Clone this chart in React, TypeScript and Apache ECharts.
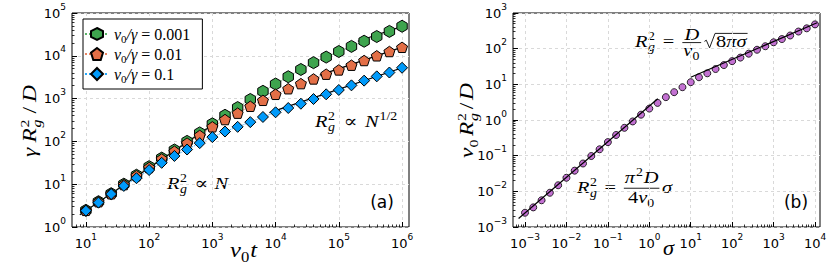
import React, { useEffect, useRef } from 'react';
import * as echarts from 'echarts';

// ---------- data: panel (a) ----------
const TIME = [10, 15.8, 25.1, 39.8, 63.1, 100, 158, 251, 398, 631, 1000, 1585, 2512, 3981, 6310, 1e4, 1.585e4, 2.512e4, 3.981e4, 6.31e4, 1e5, 1.585e5, 2.512e5, 3.981e5, 6.31e5, 1e6];
const RG_0001 = [2.45, 3.9, 6.0, 10, 16.2, 25.7, 40.7, 63, 100, 158, 257, 407, 617, 955, 1480, 2190, 3240, 4790, 6920, 9330, 12600, 16600, 21900, 28200, 37200, 49000];
const RG_001 = [2.45, 3.9, 6.0, 9.8, 15.8, 24.5, 38.9, 58.9, 91.2, 138, 219, 324, 457, 661, 912, 1260, 1700, 2240, 2880, 3720, 4680, 6030, 7760, 10000, 12600, 15800];
const RG_01 = [2.4, 3.72, 5.89, 9.12, 13.8, 21.4, 31.6, 45.7, 64.6, 91.2, 126, 170, 219, 282, 372, 479, 603, 759, 977, 1260, 1590, 2040, 2630, 3310, 4070, 5250];
const RATIOS = ['0.001', '0.01', '0.1'];
const FIT_LINEAR_A = [[8, 1.92], [1120, 269]];
const FIT_SQRT_01 = [[8000, 469], [1.12e6, 5556]];
const FIT_SQRT_001 = [[5e4, 3544], [1.12e6, 16774]];
const FIT_SQRT_0001 = [[2e5, 21913], [1.12e6, 51857]];

// ---------- data: panel (b) ----------
const SIGMA = [0.001, 0.00158, 0.00251, 0.00398, 0.00631, 0.01, 0.0158, 0.0251, 0.0398, 0.0631, 0.1, 0.158, 0.251, 0.398, 0.631, 1, 1.58, 2.51, 3.98, 6.31, 10, 15.8, 25.1, 39.8, 63.1, 100, 158, 251, 398, 631, 1000, 1585, 2512, 3981, 6310, 10000];
const RG_SIGMA = [0.00251, 0.00355, 0.00562, 0.00912, 0.0148, 0.024, 0.038, 0.0603, 0.0977, 0.151, 0.24, 0.38, 0.603, 0.912, 1.41, 2.09, 3.02, 4.37, 6.03, 8.32, 11.5, 15.8, 20.4, 26.9, 34.7, 44.7, 56.2, 72.4, 93.3, 117, 151, 186, 234, 302, 372, 479];
const FIT_SMALL_B = [[7e-4, 0.00173], [1.6, 3.95]];
const FIT_LARGE_B = [[10, 15.85], [11200, 530.5]];

// tick exponents
const X_TICKS_A = [1, 2, 3, 4, 5, 6];
const Y_TICKS_A = [0, 1, 2, 3, 4, 5];
const X_TICKS_B = [-3, -2, -1, 0, 1, 2, 3, 4];
const Y_TICKS_B = [-3, -2, -1, 0, 1, 2, 3];

const C_GREEN = '#3EA44E';
const C_ORANGE = '#E36F47';
const C_BLUE = '#009AFA';
const C_PURPLE = '#C371D2';

const MATH = '"Liberation Serif", "DejaVu Serif", serif';
const SANS = '"DejaVu Sans", sans-serif';

const HEX = 'path://M0,-10L8.66,-5L8.66,5L0,10L-8.66,5L-8.66,-5Z';
const PENT = 'path://M0,-10L9.51,-3.09L5.88,8.09L-5.88,8.09L-9.51,-3.09Z';

// ---------- math text layout ----------
let ctx2d: CanvasRenderingContext2D | null = null;
function tw(s: string, size: number, it: boolean): number {
  if (!ctx2d) ctx2d = document.createElement('canvas').getContext('2d');
  if (!ctx2d) return s.length * size * 0.5;
  ctx2d.font = `${it ? 'italic ' : ''}${size}px ${MATH}`;
  return ctx2d.measureText(s).width;
}

interface Tok {
  t?: string; it?: boolean; sup?: string; sub?: string; supIt?: boolean; subIt?: boolean;
  sp?: number; frac?: [Tok[], Tok[]]; fn?: number; fd?: number; fb?: number; sqrt?: Tok[];
}
type Prim =
  | { k: 't'; x: number; y: number; s: string; size: number; it: boolean }
  | { k: 's'; x: number; yc: number; sup: string; sub: string; supIt: boolean; subIt: boolean; size: number; lh: number }
  | { k: 'l'; x1: number; y1: number; x2: number; y2: number }
  | { k: 'p'; pts: number[][] };

const SUP_DY = -0.42;
const SUB_DY = 0.26;
const SCR = 0.68;

function lay(toks: Tok[], size: number, x0: number, y: number, out: Prim[], gap = 0): number {
  let x = x0;
  toks.forEach((k, idx) => {
    const last = idx === toks.length - 1;
    if (k.sp !== undefined) {
      x += k.sp * size;
    } else if (k.frac) {
      const wn = lay(k.frac[0], size, 0, 0, []);
      const wd = lay(k.frac[1], size, 0, 0, []);
      const w = Math.max(wn, wd) + 0.2 * size;
      lay(k.frac[0], size, x + (w - wn) / 2, y + (k.fn ?? -0.45) * size, out);
      lay(k.frac[1], size, x + (w - wd) / 2, y + (k.fd ?? 0.5) * size, out);
      const by = y + (k.fb ?? -0.26) * size;
      out.push({ k: 'l', x1: x + 0.05 * size, y1: by, x2: x + w - 0.05 * size, y2: by });
      x += w + 0.05 * size;
    } else if (k.sqrt) {
      const ty = y - 0.8 * size;
      const wr = 0.55 * size;
      const wi = lay(k.sqrt, size, x + wr + 0.05 * size, y, out);
      out.push({ k: 'p', pts: [[x + 0.03 * size, y - 0.33 * size], [x + 0.12 * size, y - 0.4 * size], [x + 0.28 * size, y + 0.05 * size], [x + wr, ty], [x + wr + wi + 0.1 * size, ty]] });
      x += wr + wi + 0.12 * size;
    } else {
      if (k.t) { out.push({ k: 't', x, y, s: k.t, size, it: !!k.it }); x += tw(k.t, size, !!k.it); }
      const ss = SCR * size;
      if (k.sup && k.sub) {
        const ys = y + SUP_DY * size - 0.34 * ss;
        const yb = y + SUB_DY * size - 0.34 * ss;
        out.push({ k: 's', x: x + 0.03 * size, yc: (ys + yb) / 2, sup: k.sup, sub: k.sub, supIt: !!k.supIt, subIt: !!k.subIt, size: ss, lh: yb - ys });
        x += Math.max(tw(k.sup, ss, !!k.supIt), tw(k.sub, ss, !!k.subIt)) + 0.07 * size;
      } else if (k.sup) {
        out.push({ k: 't', x: x + 0.04 * size, y: y + SUP_DY * size, s: k.sup, size: ss, it: !!k.supIt });
        x += tw(k.sup, ss, !!k.supIt) + 0.08 * size;
      } else if (k.sub) {
        out.push({ k: 't', x, y: y + SUB_DY * size, s: k.sub, size: ss, it: !!k.subIt });
        x += tw(k.sub, ss, !!k.subIt) + 0.04 * size;
      }
    }
    if (!last) x += gap;
  });
  return x - x0;
}

function mathGroup(toks: Tok[], size: number, x: number, y: number, targetW: number, rotation = 0, maxScale = 1.2): any {
  const w0 = lay(toks, size, 0, 0, []);
  let s = targetW / w0;
  let gap = 0;
  if (s > maxScale && toks.length > 1) {
    s = maxScale;
    gap = (targetW / s - w0) / (toks.length - 1);
  }
  const prims: Prim[] = [];
  lay(toks, size, 0, 0, prims, gap);
  const base = { fontFamily: MATH, fontWeight: 'normal', fill: '#000', align: 'left', textAlign: 'left', verticalAlign: 'middle', textVerticalAlign: 'middle' };
  return {
    type: 'group', x, y, rotation, scaleX: s, silent: true,
    children: prims.map((p) => {
      if (p.k === 't') {
        return {
          type: 'text', x: p.x, y: p.y - 0.34 * p.size,
          style: { ...base, text: p.s, fontSize: p.size, fontStyle: p.it ? 'italic' : 'normal' },
        };
      }
      if (p.k === 's') {
        return {
          type: 'text', x: p.x, y: p.yc,
          style: {
            ...base, text: `{u|${p.sup}}\n{w|${p.sub}}`, fontSize: p.size, lineHeight: p.lh,
            rich: {
              u: { fontFamily: MATH, fontSize: p.size, lineHeight: p.lh, fontStyle: p.supIt ? 'italic' : 'normal', fill: '#000', color: '#000' },
              w: { fontFamily: MATH, fontSize: p.size, lineHeight: p.lh, fontStyle: p.subIt ? 'italic' : 'normal', fill: '#000', color: '#000' },
            },
          },
        };
      }
      if (p.k === 'l') {
        return { type: 'line', shape: { x1: p.x1, y1: p.y1, x2: p.x2, y2: p.y2 }, style: { stroke: '#000', lineWidth: 0.8 } };
      }
      return { type: 'polyline', shape: { points: p.pts }, style: { stroke: '#000', lineWidth: 0.8, fill: null } };
    }),
  };
}

const RG: Tok = { t: 'R', it: true, sup: '2', sub: 'g', subIt: true };

// ---------- axes ----------
const LBL_RICH = {
  b: { fontFamily: SANS, fontSize: 13, lineHeight: 22, color: '#000' },
  s: { fontFamily: SANS, fontSize: 9, lineHeight: 10, verticalAlign: 'top', color: '#000' },
};
const fmt = (v: number) => {
  const e = Math.round(v);
  return `{b|10}{s|${e < 0 ? '\u2212' + -e : e}}`;
};

function mkAxes(grid: number, min: number, max: number, majors: number[], isX: boolean): any[] {
  const minors: number[] = [];
  for (let d = Math.floor(min) - 1; d <= Math.ceil(max); d++) {
    for (let k = 2; k <= 9; k++) {
      const v = d + Math.log10(k);
      if (v > min && v < max) minors.push(v);
    }
  }
  const base = { type: 'value', gridIndex: grid, min, max, position: isX ? 'bottom' : 'left', offset: 0, axisLine: { show: false, onZero: false } };
  return [
    {
      ...base,
      axisTick: { show: true, inside: true, length: 5, customValues: majors, lineStyle: { color: '#000', width: 1 } },
      axisLabel: { show: true, customValues: majors, formatter: fmt, rich: LBL_RICH, margin: isX ? 5 : 6 },
      splitLine: { show: true, lineStyle: { type: [3, 3], color: '#d9d9d9', width: 1 } },
    },
    {
      ...base,
      axisTick: { show: true, inside: true, length: 2.5, customValues: minors, lineStyle: { color: '#000', width: 0.8 } },
      axisLabel: { show: false },
      splitLine: { show: false },
    },
  ];
}

const lg = (xs: number[], ys: number[]) => xs.map((x, i) => [Math.log10(x), Math.log10(ys[i])]);
const lp = (pts: number[][]) => pts.map(([x, y]) => [Math.log10(x), Math.log10(y)]);

const names = RATIOS.map((r) => `\u03bd0/\u03b3 = ${r}`);

function markerSeries(name: string, data: number[][], color: string, symbol: string, size: number): any {
  return {
    type: 'line', name, xAxisIndex: 0, yAxisIndex: 0, data, symbol, symbolSize: size, symbolKeepAspect: true,
    showSymbol: true, silent: true, emphasis: { disabled: true },
    itemStyle: { color, borderColor: '#000', borderWidth: 1 },
    lineStyle: { color, width: 1, type: 'dotted', opacity: 0.85 },
  };
}
function fitSeries(data: number[][], ai: number): any {
  return {
    type: 'line', data, xAxisIndex: ai, yAxisIndex: ai, showSymbol: false, symbol: 'none', silent: true, z: 3,
    lineStyle: { color: '#000', width: 1.2 },
  };
}

function buildOption(): any {
  return {
    animation: false,
    backgroundColor: '#fff',
    grid: [
      { left: 72, top: 13, width: 337, height: 214, show: true, borderColor: '#000', borderWidth: 1 },
      { left: 513, top: 13, width: 307, height: 214, show: true, borderColor: '#000', borderWidth: 1 },
    ],
    xAxis: [...mkAxes(0, 0.78, 6.11, X_TICKS_A, true), ...mkAxes(1, -3.29, 4.12, X_TICKS_B, true)],
    yAxis: [...mkAxes(0, 0, 5, Y_TICKS_A, false), ...mkAxes(1, -3, 3, Y_TICKS_B, false)],
    legend: {
      data: names, left: 83, top: 19, orient: 'vertical', itemWidth: 24, itemHeight: 15, itemGap: 2,
      padding: [7, 12, 5, 1], borderColor: '#000', borderWidth: 1, backgroundColor: '#fff', selectedMode: false,
      formatter: (n: string) => `{i|\u03bd}{s|0}{i|/\u03b3}{r| = ${n.split('= ')[1]}}`,
      textStyle: {
        rich: {
          i: { fontFamily: MATH, fontStyle: 'italic', fontSize: 16, lineHeight: 20, color: '#000' },
          s: { fontFamily: MATH, fontSize: 11, lineHeight: 10, verticalAlign: 'bottom', color: '#000' },
          r: { fontFamily: MATH, fontSize: 16, lineHeight: 20, color: '#000' },
        },
      },
    },
    series: [
      markerSeries(names[0], lg(TIME, RG_0001), C_GREEN, HEX, 12),
      markerSeries(names[1], lg(TIME, RG_001), C_ORANGE, PENT, 11),
      markerSeries(names[2], lg(TIME, RG_01), C_BLUE, 'diamond', 11),
      fitSeries(lp(FIT_LINEAR_A), 0),
      fitSeries(lp(FIT_SQRT_01), 0),
      fitSeries(lp(FIT_SQRT_001), 0),
      fitSeries(lp(FIT_SQRT_0001), 0),
      {
        type: 'scatter', xAxisIndex: 2, yAxisIndex: 2, data: lg(SIGMA, RG_SIGMA), symbol: 'circle', symbolSize: 7,
        silent: true, itemStyle: { color: C_PURPLE, borderColor: '#000', borderWidth: 0.8, opacity: 1 },
      },
      fitSeries(lp(FIT_SMALL_B), 2),
      fitSeries(lp(FIT_LARGE_B), 2),
    ],
    graphic: [
      // axis titles
      mathGroup([{ t: '\u03b3', it: true }, RG, { t: '/' }, { t: 'D', it: true }], 18, 36, 157, 72, Math.PI / 2, 1.3),
      mathGroup([{ t: '\u03bd', it: true, sub: '0' }, { t: 't', it: true }], 20, 230, 257, 27, 0, 1.35),
      mathGroup([{ t: '\u03bd', it: true, sub: '0' }, RG, { t: '/' }, { t: 'D', it: true }], 18, 473, 158, 75, Math.PI / 2, 1.3),
      mathGroup([{ t: '\u03c3', it: true }], 20, 663, 255, 11),
      // annotations
      mathGroup([RG, { sp: 0.28 }, { t: '\u221d' }, { sp: 0.28 }, { t: 'N', it: true }], 17, 167, 189, 61),
      mathGroup([RG, { sp: 0.28 }, { t: '\u221d' }, { sp: 0.28 }, { t: 'N', it: true, sup: '1/2' }], 17, 315, 127, 83),
      mathGroup([RG, { sp: 0.28 }, { t: '=' }, { sp: 0.28 },
        { frac: [[{ t: 'D', it: true }], [{ t: '\u03bd', it: true, sub: '0' }]], fn: -0.42, fd: 0.5, fb: -0.26 },
        { sqrt: [{ t: '8' }, { t: '\u03c0', it: true }, { t: '\u03c3', it: true }] }], 17, 635, 47, 113),
      mathGroup([RG, { sp: 0.28 }, { t: '=' }, { sp: 0.28 },
        { frac: [[{ t: '\u03c0', it: true, sup: '2' }, { t: 'D', it: true }], [{ t: '4' }, { t: '\u03bd', it: true, sub: '0' }]], fn: -0.58, fd: 0.6, fb: -0.28 },
        { t: '\u03c3', it: true }], 17, 577, 193, 95),
      {
        type: 'text', x: 382, y: 202, silent: true,
        style: { text: '(a)', fontFamily: SANS, fontSize: 17, fill: '#000', align: 'center', verticalAlign: 'middle', textAlign: 'center', textVerticalAlign: 'middle' },
      },
      {
        type: 'text', x: 796, y: 202, silent: true,
        style: { text: '(b)', fontFamily: SANS, fontSize: 17, fill: '#000', align: 'center', verticalAlign: 'middle', textAlign: 'center', textVerticalAlign: 'middle' },
      },
    ],
  };
}

export default function App() {
  const ref = useRef<HTMLDivElement>(null);
  useEffect(() => {
    document.body.style.margin = '0';
    if (!ref.current) return;
    const chart = echarts.init(ref.current, null, { renderer: 'svg' });
    chart.setOption(buildOption());
    return () => chart.dispose();
  }, []);
  return <div ref={ref} style={{ width: 830, height: 277, background: '#fff' }} />;
}
